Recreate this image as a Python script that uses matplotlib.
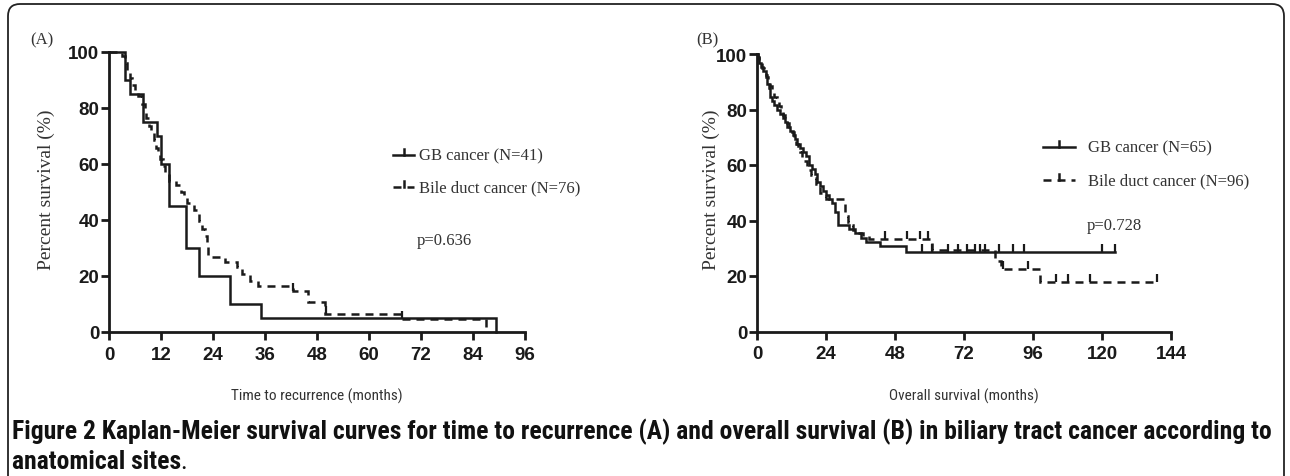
import numpy as np
import matplotlib
matplotlib.use("Agg")
import matplotlib.pyplot as plt
from matplotlib import font_manager as fm
from matplotlib.lines import Line2D
from matplotlib.patches import FancyBboxPatch

# ---------------- data ----------------
a_gb_t = [0, 3.7, 4.8, 7.8, 11.0, 12.0, 13.8, 17.8, 20.8, 28.0, 35.0, 89.4]
a_gb_s = [100, 90, 85, 75, 70, 60, 45, 30, 20, 10, 5, 0]
a_gb_cens = []

a_bd_t = [0, 3.1, 3.6, 4.2, 4.8, 5.3, 6.0, 6.8, 7.5, 8.3, 8.6, 9.2, 9.8, 10.3, 10.8,
          11.3, 11.8, 12.5, 13.0, 13.8, 15.5, 16.6, 17.2, 18.0, 19.6, 20.3, 20.8,
          21.5, 22.2, 22.6, 22.9, 26.8, 29.6, 30.7, 32.6, 34.4, 42.5, 46.0, 49.9,
          67.7, 87.0]
a_bd_s = [100, 98.7, 96, 93.4, 90.8, 88.2, 85.5, 84.2, 81.6, 78.9, 76.3, 73.7, 71.1,
          68.4, 65.8, 64.5, 61.8, 59.2, 56.6, 53.9, 52.6, 50, 48.7, 46, 43.4, 42.1,
          39.5, 36.8, 34.2, 30.3, 26.8, 25, 23.2, 20.7, 18.2, 16.4, 14.6, 10.7, 6.4,
          4.6, 0]
a_bd_cens = [42.5, 50.0, 67.7]

b_gb_t = [0, 0.4, 0.8, 1.5, 2.2, 3.0, 3.5, 4.0, 4.6, 5.2, 6.0, 7.0, 8.0, 9.0, 9.8,
          10.5, 11.5, 12.5, 13.3, 14.0, 15.0, 16.0, 17.0, 18.0, 19.0, 20.0, 21.0,
          22.0, 23.0, 24.0, 25.0, 26.0, 27.0, 28.0, 32.0, 34.0, 36.0, 38.0, 42.8,
          51.8, 124.5]
b_gb_s = [100, 98.5, 96.9, 95.4, 93.8, 92.3, 89.2, 87.7, 84.6, 83.1, 81.5, 80, 78.5,
          76.9, 75.4, 73.8, 72.3, 70.8, 69.2, 67.7, 66.2, 64.6, 63.1, 60, 58.5, 56.9,
          53.8, 52.3, 50.8, 49.2, 47.7, 46.2, 43.1, 38.5, 36.9, 35.4, 33.8, 32.3,
          30.8, 28.5, 28.5]
b_gb_cens = [57.4, 61, 66.4, 70, 73, 75.8, 77.6, 79.3, 84, 89, 93, 120, 124.5]

b_bd_t = [0, 0.3, 0.7, 1.2, 1.8, 2.5, 3.0, 3.8, 4.5, 5.2, 6.0, 6.8, 7.5, 8.2, 9.0,
          9.8, 10.5, 11.2, 12.0, 12.8, 13.5, 14.3, 15.0, 15.8, 16.5, 17.3, 18.0,
          18.8, 19.6, 20.5, 21.3, 22.0, 23.0, 24.0, 30.5, 31.5, 32.5, 33.5, 35.0,
          37.0, 39.0, 42.0, 61.0, 82.8, 85.0, 98.5, 139.0]
b_bd_s = [100, 99, 97.9, 96.9, 94.8, 93.8, 91.7, 90.6, 88.5, 86.5, 84.4, 83.3, 81.3,
          79.2, 78.1, 76, 75, 72.9, 71.9, 69.8, 67.7, 66.7, 64.6, 62.5, 61.5, 59.4,
          58.3, 56.3, 55.2, 53.1, 52.1, 50, 49, 47.9, 41.7, 39.6, 38.5, 36.5, 35.4,
          34.4, 33.3, 33.3, 29.2, 25.5, 22.5, 18.0, 18.0]
b_bd_cens = [44.5, 52, 56.7, 59.5, 85.5, 94.3, 104, 108, 115.8, 139]

a_xticks = [0, 12, 24, 36, 48, 60, 72, 84, 96]
b_xticks = [0, 24, 48, 72, 96, 120, 144]
yticks = [0, 20, 40, 60, 80, 100]

a_labels = ["GB cancer (N=41)", "Bile duct cancer (N=76)"]
b_labels = ["GB cancer (N=65)", "Bile duct cancer (N=96)"]
a_p = "p=0.636"
b_p = "p=0.728"

# ---------------- fonts ----------------
names = {f.name for f in fm.fontManager.ttflist}
def pick(*cands):
    for c in cands:
        if c in names:
            return c
    return "DejaVu Sans"

SERIF = pick("Liberation Serif", "DejaVu Serif")
SANS = pick("Liberation Sans", "Arial", "DejaVu Sans")
NARROW = pick("Liberation Sans Narrow", "Roboto Condensed", "Liberation Sans")

W, H = 1290, 477
fig = plt.figure(figsize=(W / 100, H / 100), dpi=100)

def fx(x):
    return x / W

def fy(y):
    return 1 - y / H

LC = "#1a1a1a"
DASH = (0, (3.2, 2.4))

def km_value(t, s, x):
    v = s[0]
    for ti, si in zip(t, s):
        if ti <= x:
            v = si
    return v

def draw_km(ax, t, s, cens, ls):
    ax.step(t, s, where="post", color=LC, lw=1.8, linestyle=ls, clip_on=False,
            solid_joinstyle="miter", dash_joinstyle="miter", zorder=3)
    if cens:
        ys = [km_value(t, s, c) for c in cens]
        ax.plot(cens, ys, linestyle="none", marker=2, markersize=6,
                markeredgewidth=1.6, color=LC, clip_on=False, zorder=3)

def style_axes(ax, xticks, xmax):
    ax.set_xlim(0, xmax)
    ax.set_ylim(0, 100)
    for sp in ["top", "right"]:
        ax.spines[sp].set_visible(False)
    for sp in ["left", "bottom"]:
        ax.spines[sp].set_linewidth(2.0)
        ax.spines[sp].set_color(LC)
    ax.set_xticks(xticks)
    ax.set_yticks(yticks)
    ax.tick_params(direction="out", length=6, width=2.0, color=LC)
    ax.tick_params(axis="y", pad=1)
    ax.tick_params(axis="x", pad=4)
    for lab in ax.get_xticklabels() + ax.get_yticklabels():
        lab.set_fontfamily(SANS)
        lab.set_fontweight("bold")
        lab.set_fontsize(13.5)
        lab.set_color(LC)

# Panel A
axA = fig.add_axes([fx(109), fy(333), (525 - 109) / W, (333 - 53) / H])
draw_km(axA, a_gb_t, a_gb_s, a_gb_cens, "-")
draw_km(axA, a_bd_t, a_bd_s, a_bd_cens, DASH)
style_axes(axA, a_xticks, 96)

# Panel B
axB = fig.add_axes([fx(757), fy(332.5), (1171 - 757) / W, (332.5 - 55) / H])
draw_km(axB, b_gb_t, b_gb_s, b_gb_cens, "-")
draw_km(axB, b_bd_t, b_bd_s, b_bd_cens, DASH)
style_axes(axB, b_xticks, 144)

TC = "#333333"
# panel labels
fig.text(fx(30), fy(40), "(A)", fontfamily=SERIF, fontsize=12, color=TC, va="center", ha="left")
fig.text(fx(696), fy(40), "(B)", fontfamily=SERIF, fontsize=12, color=TC, va="center", ha="left")

# y labels
for x in (46, 711):
    fig.text(fx(x), fy(190), "Percent survival (%)", fontfamily=SERIF, fontsize=14,
             color=TC, rotation=90, va="center", ha="center")

# x labels
fig.text(fx(317), fy(396), "Time to recurrence (months)", fontfamily=NARROW,
         fontsize=11, color=TC, va="center", ha="center")
fig.text(fx(964), fy(396), "Overall survival (months)", fontfamily=NARROW,
         fontsize=11, color=TC, va="center", ha="center")

# legends
def legend_entry(x0, x1, y, ls, text, tx):
    fig.add_artist(Line2D([fx(x0), fx(x1)], [fy(y), fy(y)], color=LC, lw=1.8,
                          linestyle=ls, transform=fig.transFigure))
    xm = (x0 + x1) / 2
    fig.add_artist(Line2D([fx(xm), fx(xm)], [fy(y), fy(y - 6)], color=LC, lw=1.8,
                          transform=fig.transFigure))
    fig.text(fx(tx), fy(y), text, fontfamily=SERIF, fontsize=12, color=TC,
             va="center", ha="left")

legend_entry(393, 414, 156, "-", a_labels[0], 419)
legend_entry(393, 414, 188, DASH, a_labels[1], 419)
fig.text(fx(417), fy(241), a_p, fontfamily=SERIF, fontsize=12, color=TC, va="center", ha="left")

legend_entry(1043, 1075, 148, "-", b_labels[0], 1088)
legend_entry(1043, 1075, 181, DASH, b_labels[1], 1088)
fig.text(fx(1087), fy(226), b_p, fontfamily=SERIF, fontsize=12, color=TC, va="center", ha="left")

# frame
frame = FancyBboxPatch((0.08, -0.3), (1284 - 8) / 100, (H - 5) / 100 + 0.3,
                       boxstyle="round,pad=0,rounding_size=0.12",
                       transform=fig.dpi_scale_trans, fill=False,
                       edgecolor="#222222", linewidth=1.3, clip_on=False)
fig.patches.append(frame)

# caption
cap1 = ("Figure 2 Kaplan-Meier survival curves for time to recurrence (A) and overall "
        "survival (B) in biliary tract cancer according to")
cap2 = "anatomical sites"
renderer = fig.canvas.get_renderer()
t1 = fig.text(fx(12), fy(432), cap1, fontfamily=NARROW, fontweight="bold",
              fontsize=12, color="#111111", va="center", ha="left")
w = t1.get_window_extent(renderer).width
fs = 12 * (1262 / w)
t1.set_fontsize(fs)
t2 = fig.text(fx(12), fy(462), cap2, fontfamily=NARROW, fontweight="bold",
              fontsize=fs, color="#111111", va="center", ha="left")
w2 = t2.get_window_extent(renderer).width
fig.text(fx(12 + w2 - 1), fy(462), ".", fontfamily=NARROW, fontsize=fs,
         color="#111111", va="center", ha="left")

fig.savefig("out.png", dpi=100)
